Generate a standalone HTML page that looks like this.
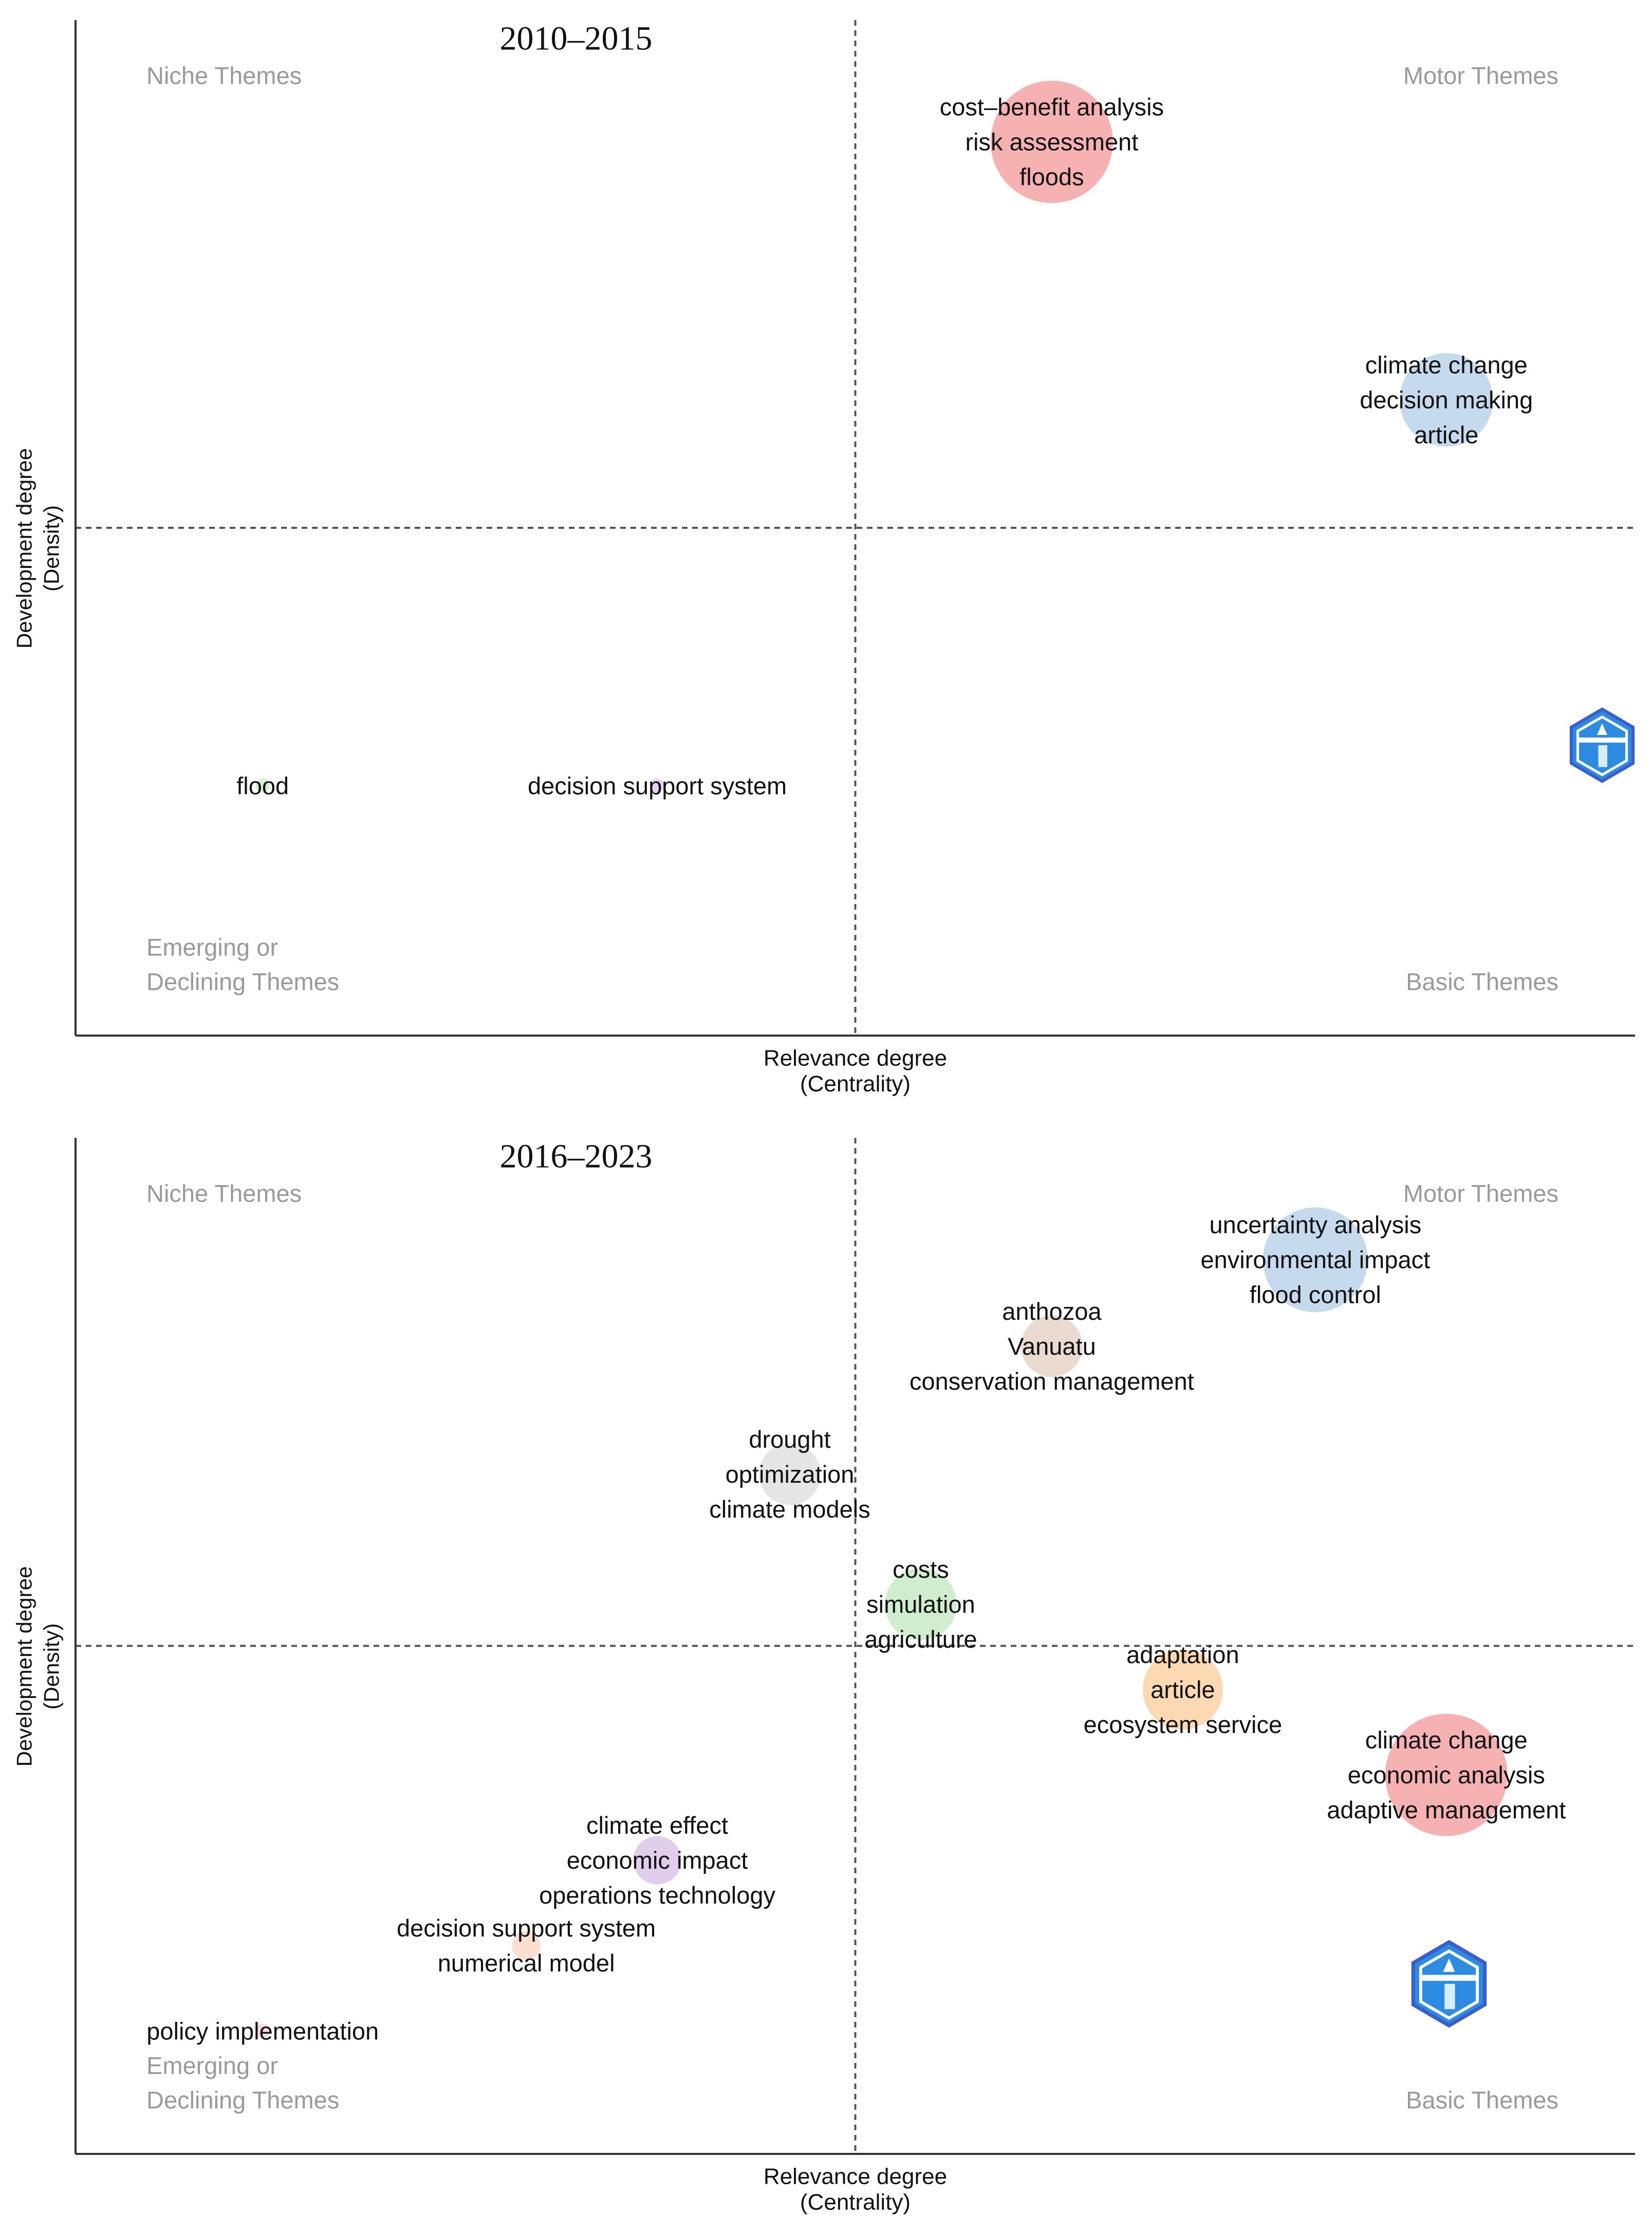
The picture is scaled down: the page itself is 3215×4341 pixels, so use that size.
<!DOCTYPE html>
<html><head><meta charset="utf-8">
<style>
html,body{margin:0;padding:0;background:#fff;}
svg{display:block;}
</style></head>
<body>
<svg id="chart" width="3215" height="4341" viewBox="0 0 3215 4341" xmlns="http://www.w3.org/2000/svg" font-family="Liberation Sans, sans-serif"></svg>
<script>
// ---------- data ----------
const panelTitles = ["2010–2015", "2016–2023"];
// panel 1 themes
const p1Labels = [
  ["cost–benefit analysis","risk assessment","floods"],
  ["climate change","decision making","article"],
  ["flood"],
  ["decision support system"]
];
const p1Centrality = [0.626, 0.879, 0.120, 0.373];
const p1Density    = [0.880, 0.626, 0.246, 0.246];
const p1Size       = [119, 91, 14, 14];
const p1Colors     = ["#f5a3a6","#bcd3ea","#cfeccf","#e3cbee"];
// panel 2 themes
const p2Labels = [
  ["uncertainty analysis","environmental impact","flood control"],
  ["anthozoa","Vanuatu","conservation management"],
  ["drought","optimization","climate models"],
  ["costs","simulation","agriculture"],
  ["adaptation","article","ecosystem service"],
  ["climate change","economic analysis","adaptive management"],
  ["climate effect","economic impact","operations technology"],
  ["decision support system","numerical model"],
  ["policy implementation"]
];
const p2Centrality = [0.795, 0.626, 0.458, 0.542, 0.710, 0.879, 0.373, 0.289, 0.120];
const p2Density    = [0.880, 0.795, 0.669, 0.541, 0.457, 0.373, 0.289, 0.205, 0.121];
const p2Size       = [102, 60, 60, 70, 78, 119, 47, 28, 14];
const p2Colors     = ["#bcd3ea","#e8d3c8","#e0e0e0","#c8eac8","#fdd2a6","#f5a3a6","#dcc6ea","#fbd9c8","#f6cfe0"];

// ---------- layout ----------
const NS = "http://www.w3.org/2000/svg";
const svg = document.getElementById("chart");
const X0 = 147, X1 = 3182;
const panels = [
  {top:39, bottom:2015, labels:p1Labels, cx:p1Centrality, cy:p1Density, r:p1Size, col:p1Colors, logo:[3118,1450,125]},
  {top:2214, bottom:4191, labels:p2Labels, cx:p2Centrality, cy:p2Density, r:p2Size, col:p2Colors, logo:[2820,3860,145]}
];
function mk(tag, attrs, parent){
  const e = document.createElementNS(NS, tag);
  for (const k in attrs) e.setAttribute(k, attrs[k]);
  (parent||svg).appendChild(e);
  return e;
}
function txt(str, x, y, size, fill, anchor, parent, family){
  const t = mk("text", {x:x, y:y, "font-size":size, fill:fill, "text-anchor":anchor||"middle", "dominant-baseline":"central"}, parent);
  t.style.fontFamily = family || '"Liberation Sans", sans-serif';
  t.textContent = str;
  return t;
}

panels.forEach((p, pi) => {
  const g = mk("g", {});
  
  
  const xs = v => X0 + v * (X1 - X0);
  const ys = v => p.bottom - v * (p.bottom - p.top);
  const midX = xs(0.5), midY = ys(0.5);

  // bubbles
  p.cx.forEach((v, i) => {
    const c = mk("circle", {cx:xs(v), cy:ys(p.cy[i]), r:p.r[i], fill:p.col[i], "fill-opacity":0.85}, g);
    
    
  });

  // dashed lines
  const vl = mk("line", {x1:midX, y1:p.top, x2:midX, y2:p.bottom, stroke:"#555", "stroke-width":4, "stroke-dasharray":"11 9"}, g);
  
  
  const hl = mk("line", {x1:X0, y1:midY, x2:X1, y2:midY, stroke:"#555", "stroke-width":4, "stroke-dasharray":"11 9"}, g);
  
  

  // axes
  const ya = mk("line", {x1:X0, y1:p.top, x2:X0, y2:p.bottom, stroke:"#333", "stroke-width":4}, g);
  
  
  const xa = mk("line", {x1:X0, y1:p.bottom, x2:X1, y2:p.bottom, stroke:"#333", "stroke-width":4}, g);
  
  

  // theme labels
  p.cx.forEach((v, i) => {
    const lines = p.labels[i];
    const cy = ys(p.cy[i]);
    const gap = 68;
    lines.forEach((s, j) => {
      const t = txt(s, xs(v), cy + (j - (lines.length-1)/2) * gap, 47, "#111", "middle", g);
      
      
    });
  });

  // title
  const tt = txt(panelTitles[pi], 1121, p.top + 36, 66, "#111", "middle", g, '"Liberation Serif", serif');
  
  

  // quadrant labels
  const off = p.top;
  const q1 = txt("Niche Themes", 285, off + 108, 47, "#9a9a9a", "start", g);
  
  
  const q2 = txt("Motor Themes", 3033, off + 108, 47, "#9a9a9a", "end", g);
  
  
  const q3 = txt("Emerging or", 285, p.bottom - 172, 47, "#9a9a9a", "start", g);
  
  
  const q3b = txt("Declining Themes", 285, p.bottom - 105, 47, "#9a9a9a", "start", g);
  
  
  const q4 = txt("Basic Themes", 3033, p.bottom - 105, 47, "#9a9a9a", "end", g);
  
  

  // axis titles
  const xt1 = txt("Relevance degree", midX, p.bottom + 44, 44, "#111", "middle", g);
  
  
  const xt2 = txt("(Centrality)", midX, p.bottom + 94, 44, "#111", "middle", g);
  
  
  const yt = mk("g", {transform:"translate(0," + (midY + 40) + ") rotate(-90)"}, g);
  
  
  txt("Development degree", 0, 47, 42, "#111", "middle", yt);
  txt("(Density)", 0, 100, 42, "#111", "middle", yt);

  // logo
  const [lx, ly, ls] = p.logo;
  const lg = mk("g", {transform:"translate(" + lx + "," + ly + ") scale(" + (ls/100) + ")"}, g);
  
  
  mk("polygon", {points:"0,-56 48,-28 48,28 0,56 -48,28 -48,-28", fill:"#2d8be0", stroke:"#3b5fc8", "stroke-width":5}, lg);
  mk("polygon", {points:"0,-44 38,-22 38,24 0,46 -38,24 -38,-22", fill:"none", stroke:"#fff", "stroke-width":4}, lg);
  mk("rect", {x:-36, y:-12, width:72, height:8, fill:"#fff"}, lg);
  mk("polygon", {points:"0,-34 8,-16 -8,-16", fill:"#fff"}, lg);
  mk("rect", {x:-6, y:0, width:14, height:34, fill:"#d8ecff"}, lg);
});
</script>
</body></html>
